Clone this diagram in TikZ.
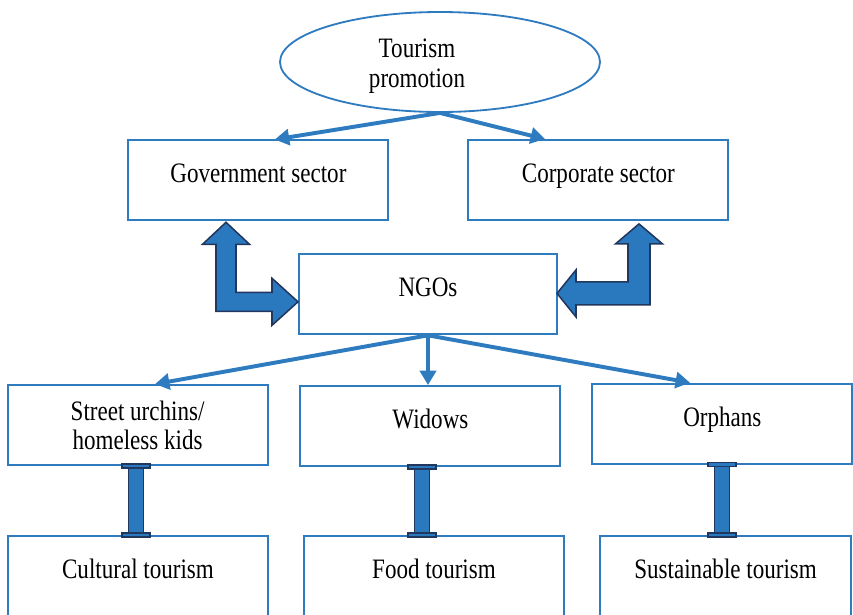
\documentclass[tikz,border=0pt]{standalone}
\usepackage{fontspec}
\setmainfont{Liberation Serif}[FakeStretch=0.82]
\usetikzlibrary{arrows.meta,calc,shapes.geometric}
\definecolor{lineblue}{HTML}{2E7BC0}
\definecolor{barfill}{HTML}{2A78BE}
\definecolor{navy}{HTML}{22375E}

% I-shaped link: upper node, lower node, x offset from the upper node's south
\newcommand\ibeam[3]{%
  \coordinate (ib) at ($(#1.south)+(#3,0)$);
  \coordinate (ie) at (ib |- #2.north);
  \filldraw[beam] ($(ib)+(-.19,0)$) rectangle ($(ie)+(.19,0)$);
  \filldraw[beam] ($(ib)+(-.35,-.05)$) rectangle ($(ib)+(.35,.05)$);
  \filldraw[beam] ($(ie)+(-.35,-.05)$) rectangle ($(ie)+(.35,.05)$);}

\begin{document}
\begin{tikzpicture}[x=1cm,y=-1cm,
  box/.style={draw=lineblue,line width=1.3pt,minimum width=6.5cm,minimum height=2cm,
    inner sep=0pt,align=center,font=\fontsize{20}{20.5}\selectfont},
  oneline/.style={text height=14pt,text depth=10.4pt},
  flow/.style={-{Triangle[length=.36cm,width=.4cm]},line width=2.8pt,draw=lineblue},
  block/.style={fill=barfill,draw=navy,line width=1.1pt,line join=miter},
  beam/.style={fill=barfill,draw=navy,line width=.9pt}]
\clip (0,0) rectangle (21.325,15.35);

% top: promotion and the two sectors
\node[ellipse,draw=lineblue,line width=1.3pt,minimum width=8cm,minimum height=2.5cm,
  text depth=0pt,font=\fontsize{20}{21.5}\selectfont] (promo) at (11,1.55)
  {\hspace*{-1.15cm}\begin{tabular}[b]{@{}c@{}}Tourism\\promotion\end{tabular}};
\node[box,oneline] (gov) at (6.46,4.51) {Government sector};
\node[box,oneline] (corp) at (14.96,4.5) {Corporate sector};
\draw[flow] (promo.south) -- ($(gov.north)+(.41,0)$);
\draw[flow] (promo.south) -- ($(corp.north)+(-1.335,0)$);

% NGOs in the middle, bent two-way arrows to each sector
\node[box,oneline,minimum width=6.45cm] (ngo) at (10.7,7.36) {NGOs};
\coordinate (gtip) at ($(gov.south)+(-.81,.025)$);
\filldraw[block,shift={(gtip)}] (0,0) -- (.5875,.55) -- (.25,.55) -- (.25,1.75)
  -- (1.15,1.75) -- (1.15,1.4) -- (1.8,1.9875) -- (1.15,2.575) -- (1.15,2.225)
  -- (-.25,2.225) -- (-.25,.55) -- (-.5875,.55) -- cycle;
\coordinate (ctip) at ($(corp.south)+(1.015,.075)$);
\filldraw[block,shift={(ctip)}] (0,0) -- (.5875,.5) -- (.275,.5) -- (.275,2.025)
  -- (-1.575,2.025) -- (-1.575,2.325) -- (-2.05,1.7375) -- (-1.575,1.15) -- (-1.575,1.45)
  -- (-.275,1.45) -- (-.275,.5) -- (-.5875,.5) -- cycle;

% target groups
\node[box] (street) at (3.44,10.625) {Street urchins/\\homeless kids};
\node[box,oneline] (widows) at (10.76,10.65) {Widows};
\node[box,oneline] (orphans) at (18.06,10.59) {Orphans};
\draw[flow] (ngo.south) -- ($(street.north)+(.435,0)$);
\draw[flow] (ngo.south) -- (ngo.south |- widows.north);
\draw[flow] (ngo.south) -- ($(orphans.north)+(-.81,0)$);

% kinds of tourism
\node[box,oneline] (cult) at (3.45,14.4) {Cultural tourism};
\node[box,oneline] (food) at (10.85,14.4) {Food tourism};
\node[box,oneline,minimum width=6.28cm] (sust) at (18.14,14.4) {Sustainable tourism};
\ibeam{street}{cult}{-.04}
\ibeam{widows}{food}{-.21}
\ibeam{orphans}{sust}{-.01}
\end{tikzpicture}
\end{document}
